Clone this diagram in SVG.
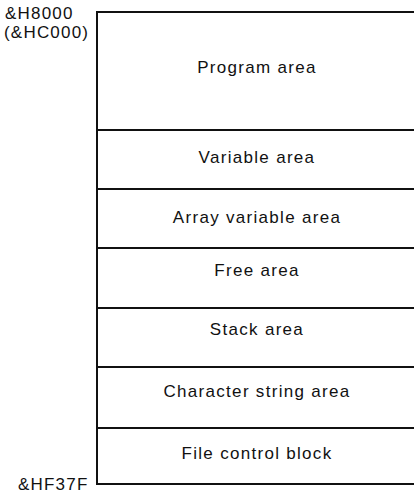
<svg xmlns="http://www.w3.org/2000/svg" width="414" height="496" viewBox="0 0 414 496">
<style>
.ln{stroke:#111;stroke-width:2;fill:none}
.t{font-family:"Liberation Sans",Arial,sans-serif;font-size:17px;letter-spacing:1.3px;fill:#111;text-anchor:middle}
.a{font-family:"Liberation Sans",Arial,sans-serif;font-size:17px;letter-spacing:1.2px;fill:#111}
</style>
<rect width="414" height="496" fill="#fff"/>
<g id="labels">
<text class="a" x="5" y="19">&amp;H8000</text>
<text class="a" x="4" y="38">(&amp;HC000)</text>
<text class="a" x="18" y="490">&amp;HF37F</text>
</g>
<g id="frame">
<path class="ln" d="M414,12 H97 V484 H414"/>
</g>
<g id="connectors">
<path class="ln" d="M97,130 H414 M97,189 H414 M97,248 H414 M97,308 H414 M97,367 H414 M97,428 H414"/>
</g>
<g id="program"><text class="t" x="257" y="73">Program area</text></g>
<g id="variable"><text class="t" x="257" y="163">Variable area</text></g>
<g id="array"><text class="t" x="257" y="223">Array variable area</text></g>
<g id="free"><text class="t" x="257" y="276">Free area</text></g>
<g id="stack"><text class="t" x="257" y="335">Stack area</text></g>
<g id="string"><text class="t" x="257" y="397">Character string area</text></g>
<g id="fcb"><text class="t" x="257" y="459">File control block</text></g>
</svg>
